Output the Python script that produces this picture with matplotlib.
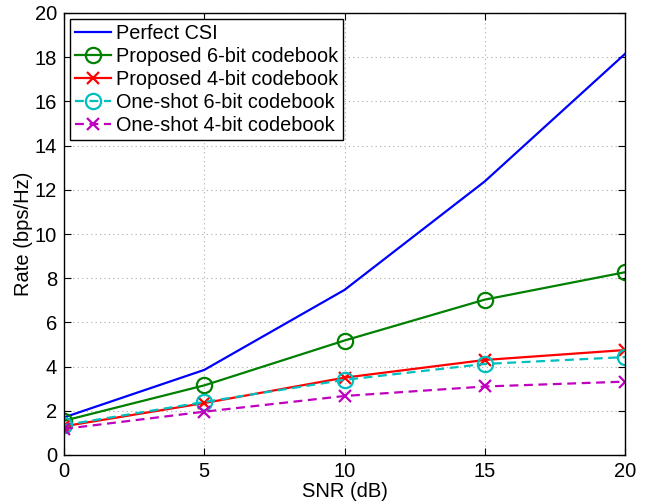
import matplotlib
matplotlib.use("Agg")
import matplotlib.pyplot as plt

snr = [0, 5, 10, 15, 20]
perfect_csi = [1.7, 3.85, 7.47, 12.38, 18.15]
proposed_6bit = [1.55, 3.15, 5.18, 7.03, 8.27]
proposed_4bit = [1.3, 2.35, 3.5, 4.3, 4.75]
oneshot_6bit = [1.35, 2.4, 3.4, 4.12, 4.43]
oneshot_4bit = [1.18, 1.96, 2.67, 3.1, 3.32]

labels = ["Perfect CSI", "Proposed 6-bit codebook", "Proposed 4-bit codebook",
          "One-shot 6-bit codebook", "One-shot 4-bit codebook"]

plt.rcParams['font.family'] = ['Liberation Sans', 'DejaVu Sans']

fig = plt.figure(figsize=(6.51, 5.04), dpi=100)
ax = fig.add_axes([64/651, 49/504, 561/651, 442/504])

lw = 1.6
ax.plot(snr, perfect_csi, '-', color=(0, 0, 1), lw=lw, label=labels[0])
ax.plot(snr, proposed_6bit, '-', color=(0, 0.5, 0), lw=lw, marker='o', ms=11,
        mfc='none', mew=1.6, label=labels[1])
ax.plot(snr, proposed_4bit, '-', color=(1, 0, 0), lw=lw, marker='x', ms=8,
        mew=1.6, label=labels[2])
ax.plot(snr, oneshot_6bit, '--', color=(0, 0.75, 0.75), lw=lw, marker='o', ms=11,
        mfc='none', mew=1.6, label=labels[3], dashes=(4, 2.5))
ax.plot(snr, oneshot_4bit, '--', color=(0.75, 0, 0.75), lw=lw, marker='x', ms=8,
        mew=1.6, label=labels[4], dashes=(4, 2.5))

ax.set_xlim(0, 20)
ax.set_ylim(0, 20)
ax.set_xticks([0, 5, 10, 15, 20])
ax.set_yticks(range(0, 21, 2))
ax.tick_params(direction='in', labelsize=14.5, length=5, width=0.8, top=True, right=True, pad=5)
ax.grid(True, linestyle=(0, (1, 3)), color='#aaaaaa', linewidth=0.8)
for s in ax.spines.values():
    s.set_linewidth(1.0)

ax.set_xlabel("SNR (dB)", fontsize=14.5, labelpad=1)
ax.set_ylabel("Rate (bps/Hz)", fontsize=14.5, labelpad=1)

leg = ax.legend(loc='upper left', fontsize=14.3, frameon=True, fancybox=False,
                edgecolor='black', framealpha=1, borderaxespad=0.3,
                handlelength=1.8, handletextpad=0.25, labelspacing=0.2,
                borderpad=0.25)
leg.get_frame().set_linewidth(1.0)

fig.savefig("out.png", dpi=100)
